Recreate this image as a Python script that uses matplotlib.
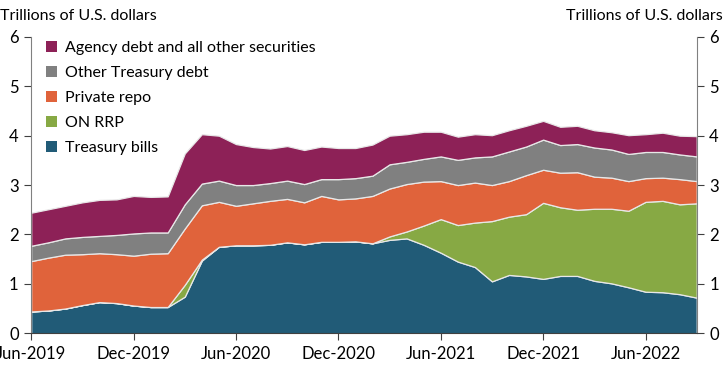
import matplotlib
matplotlib.use("Agg")
import matplotlib.pyplot as plt
from matplotlib.patches import Patch
import numpy as np

plt.rcParams["font.family"] = ["Lato", "DejaVu Sans"]

# monthly, Jun-2019 .. Sep-2022 (trillions of U.S. dollars)
months = np.arange(40)
tick_pos = [0, 6, 12, 18, 24, 30, 36]
tick_labels = ["Jun-2019", "Dec-2019", "Jun-2020", "Dec-2020", "Jun-2021", "Dec-2021", "Jun-2022"]

treasury_bills = [0.44, 0.46, 0.50, 0.57, 0.63, 0.61, 0.56, 0.53, 0.53, 0.74,
                  1.47, 1.75, 1.78, 1.78, 1.79, 1.84, 1.80, 1.85, 1.85, 1.86,
                  1.82, 1.89, 1.92, 1.79, 1.63, 1.45, 1.34, 1.05, 1.18, 1.15,
                  1.10, 1.16, 1.16, 1.06, 1.01, 0.93, 0.84, 0.83, 0.79, 0.72]
on_rrp = [0, 0, 0, 0, 0, 0, 0, 0, 0, 0.24,
          0.02, 0, 0, 0, 0, 0, 0, 0, 0, 0,
          0, 0.07, 0.14, 0.39, 0.68, 0.74, 0.90, 1.22, 1.18, 1.26,
          1.54, 1.39, 1.34, 1.46, 1.51, 1.55, 1.82, 1.85, 1.82, 1.91]
private_repo = [1.02, 1.07, 1.09, 1.03, 0.99, 0.99, 1.01, 1.08, 1.09, 1.14,
                1.10, 0.91, 0.80, 0.85, 0.89, 0.88, 0.85, 0.93, 0.86, 0.87,
                0.96, 0.97, 0.96, 0.89, 0.77, 0.81, 0.81, 0.73, 0.72, 0.79,
                0.67, 0.70, 0.76, 0.65, 0.63, 0.60, 0.48, 0.47, 0.51, 0.45]
other_treasury = [0.31, 0.31, 0.33, 0.35, 0.35, 0.39, 0.45, 0.43, 0.42, 0.49,
                  0.44, 0.43, 0.42, 0.37, 0.36, 0.37, 0.37, 0.34, 0.41, 0.41,
                  0.41, 0.49, 0.45, 0.46, 0.50, 0.51, 0.51, 0.58, 0.60, 0.58,
                  0.61, 0.56, 0.57, 0.59, 0.57, 0.55, 0.53, 0.52, 0.50, 0.50]
agency_other = [0.67, 0.67, 0.66, 0.70, 0.73, 0.72, 0.76, 0.72, 0.73, 1.03,
                1.00, 0.91, 0.83, 0.77, 0.70, 0.70, 0.69, 0.66, 0.63, 0.61,
                0.63, 0.58, 0.56, 0.55, 0.50, 0.47, 0.47, 0.43, 0.43, 0.42,
                0.38, 0.37, 0.37, 0.35, 0.35, 0.38, 0.36, 0.39, 0.38, 0.41]

labels = ["Treasury bills", "ON RRP", "Private repo", "Other Treasury debt",
          "Agency debt and all other securities"]
colors = ["#215b77", "#87a944", "#e0633b", "#808080", "#8d2157"]

fig = plt.figure(figsize=(7.25, 3.69), dpi=100)
ax = fig.add_axes([0.043, 0.097, 0.918, 0.803])

ax.stackplot(months, treasury_bills, on_rrp, private_repo, other_treasury, agency_other,
             colors=colors, edgecolor="#e8e8e8", linewidth=0.9)

ax.set_xlim(0, 39)
ax.set_ylim(0, 6)
ax.set_xticks(tick_pos)
ax.set_xticklabels(tick_labels)
ax.set_yticks(range(7))
ax.tick_params(axis="both", labelsize=12, length=5, color="#404040", pad=4)
ax.tick_params(axis="y", right=True, labelright=True)
for side in ["left", "right"]:
    ax.spines[side].set_color("#808080")
ax.spines["bottom"].set_color("#404040")
ax.spines["top"].set_visible(False)

fig.text(0.0, 0.975, "Trillions of U.S. dollars", fontsize=11.5, ha="left", va="top")
fig.text(0.997, 0.975, "Trillions of U.S. dollars", fontsize=11.5, ha="right", va="top")

handles = [Patch(facecolor=c, edgecolor="none") for c in colors][::-1]
ax.legend(handles, labels[::-1], loc="upper left", bbox_to_anchor=(0.0, 1.035),
          frameon=False, fontsize=11.5, handlelength=0.7, handleheight=0.7,
          handletextpad=0.5, labelspacing=0.68, borderaxespad=0.5)

fig.savefig("out.png", dpi=100)
